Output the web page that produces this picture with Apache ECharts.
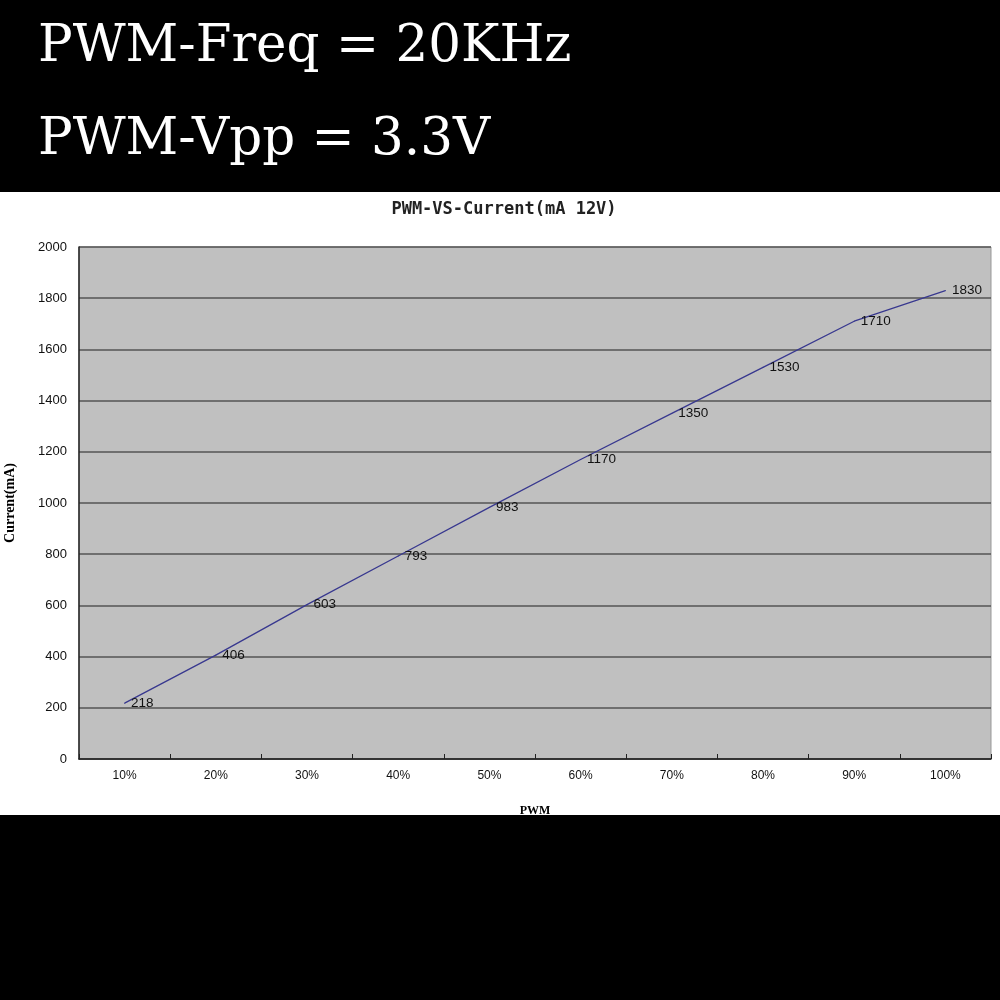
<!DOCTYPE html>
<html>
<head>
<meta charset="utf-8">
<script src="https://cdn.jsdelivr.net/npm/echarts@6/dist/echarts.min.js"></script>
<style>
html,body{margin:0;padding:0;background:#000;}
#c{width:1000px;height:1000px;}
</style>
</head>
<body>
<div id="c"></div>
<script>
const headline1 = 'PWM-Freq = 20KHz';
const headline2 = 'PWM-Vpp = 3.3V';
const chartTitle = 'PWM-VS-Current(mA 12V)';
const categories = ['10%','20%','30%','40%','50%','60%','70%','80%','90%','100%'];
const currentValues = [218, 406, 603, 793, 983, 1170, 1350, 1530, 1710, 1830];
const yMin = 0, yMax = 2000, yStep = 200;

const chart = echarts.init(document.getElementById('c'), null, {renderer:'canvas'});
chart.setOption({
  backgroundColor: '#000',
  animation: false,
  graphic: [
    {type:'rect', shape:{x:0,y:192,width:1000,height:623}, style:{fill:'#fff'}, z:-10, silent:true},
    {type:'text', x:38, y:22, style:{text:headline1, fill:'#fff', font:'51.5px "DejaVu Serif", serif'}},
    {type:'text', x:38, y:115, style:{text:headline2, fill:'#fff', font:'51.5px "DejaVu Serif", serif'}}
  ],
  title: {
    text: chartTitle, left: 499, top: 196, textAlign: 'center',
    textStyle: {fontFamily:'"DejaVu Sans Mono", monospace', fontSize:17, fontWeight:'bold', color:'#222'}
  },
  grid: {left:79, top:247, width:912, height:512, show:true, backgroundColor:'#c0c0c0', borderColor:'#999', borderWidth:1, outerBoundsMode:'none', containLabel:false},
  xAxis: {
    type:'category', data:categories, boundaryGap:true,
    name:'PWM', nameLocation:'middle', nameGap:46,
    nameTextStyle:{fontFamily:'"Liberation Serif", serif', fontWeight:'bold', fontSize:12, color:'#000'},
    axisLine:{lineStyle:{color:'#222', width:1.5}},
    axisTick:{show:true, inside:true, length:5, lineStyle:{color:'#222'}},
    axisLabel:{margin:11, fontSize:12, color:'#111', fontFamily:'"Liberation Sans", sans-serif'},
    splitLine:{show:false}
  },
  yAxis: {
    type:'value', min:yMin, max:yMax, interval:yStep,
    name:'Current(mA)', nameLocation:'middle', nameGap:62, nameRotate:90,
    nameTextStyle:{fontFamily:'"Liberation Serif", serif', fontWeight:'bold', fontSize:14, color:'#000'},
    axisLine:{show:true, lineStyle:{color:'#222', width:1.5}},
    axisTick:{show:false},
    axisLabel:{margin:12, fontSize:13, color:'#111', fontFamily:'"Liberation Sans", sans-serif', formatter: v => String(v)},
    splitLine:{show:true, lineStyle:{color:'#555', width:1.5}}
  },
  series: [{
    type:'line', data:currentValues, showSymbol:true, symbol:'circle', symbolSize:1,
    itemStyle:{color:'#38388f'},
    lineStyle:{color:'#38388f', width:1.3},
    label:{show:true, position:'right', distance:6, fontSize:13.5, color:'#111', fontFamily:'"Liberation Sans", sans-serif'},
    labelLayout:{hideOverlap:false}
  }]
});
</script>
</body>
</html>
